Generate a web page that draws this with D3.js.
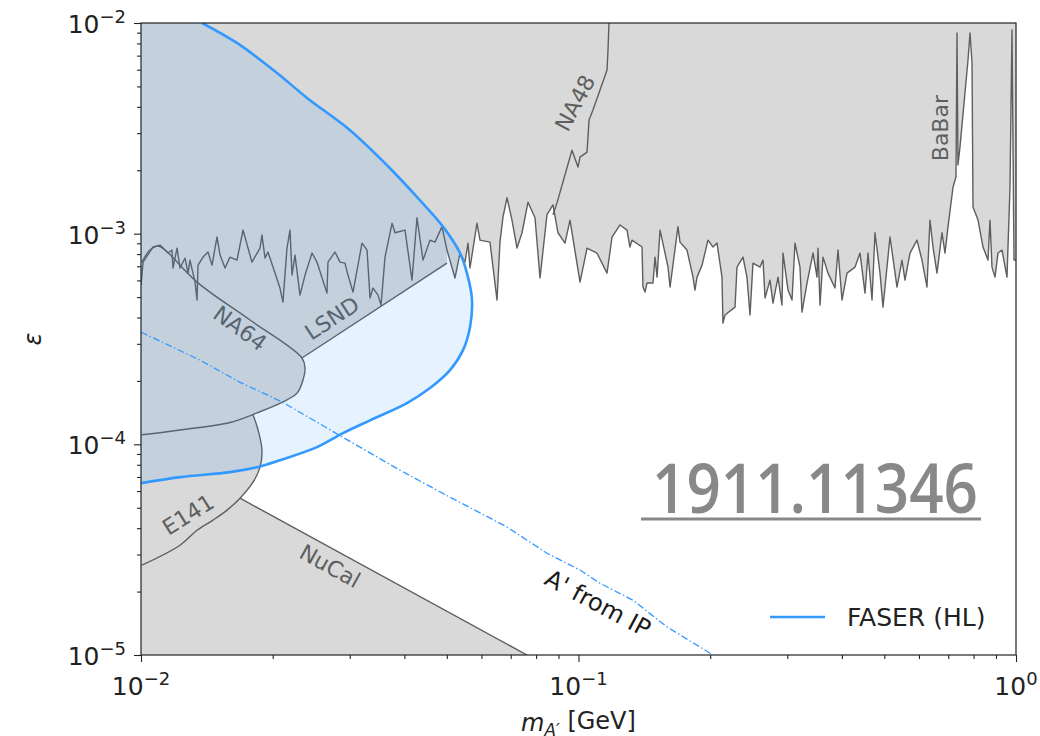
<!DOCTYPE html>
<html>
<head>
<meta charset="utf-8">
<title>Dark photon limits</title>
<script src="https://cdn.jsdelivr.net/npm/d3@7"></script>
<style>
    body { margin: 0; background: #fff; font-family: "DejaVu Sans", sans-serif; }
    .tick-label { font-size: 25px; fill: #222; }
    .exp-label { font-size: 22px; fill: #5e5e5e; }
</style>
</head>
<body>
<svg width="1040" height="736" id="mainsvg"></svg>
<script>
// upper noisy bound (BaBar / KLOE / ... envelope)
const babarM = [0.01,0.01011,0.01065,0.01105,0.01135,0.01153,0.01177,0.01183,0.01209,0.01228,
    0.01261,0.01281,0.01294,0.01329,0.01343,0.0135,0.01386,0.01423,0.01453,0.01492,
    0.01516,0.01556,0.01597,0.01657,0.01711,0.01793,0.01871,0.0189,0.01921,0.01951,
    0.02078,0.02111,0.02156,0.02191,0.02214,0.02249,0.02309,0.02371,0.0246,0.02525,
    0.02661,0.02675,0.02776,0.0285,0.02926,0.02972,0.03052,0.032,0.03286,0.03338,
    0.03391,0.03481,0.03537,0.03612,0.03748,0.03808,0.04013,0.04163,0.04274,0.04412,
    0.04577,0.04699,0.04875,0.05005,0.0522,0.0536,0.05503,0.0559,0.05649,0.05861,
    0.05955,0.06276,0.06512,0.06615,0.06721,0.06864,0.07047,0.07235,0.07428,0.07667,
    0.07954,0.08166,0.08472,0.08744,0.08977,0.09314,0.09562,0.1008,0.1046,0.1102,
    0.1162,0.1193,0.1244,0.1291,0.1311,0.1325,0.1397,0.1404,0.1419,0.1434,
    0.148,0.1496,0.1512,0.1536,0.1602,0.1619,0.1688,0.1706,0.177,0.1827,
    0.1846,0.1866,0.1916,0.1977,0.203,0.2073,0.2128,0.2139,0.2162,0.2279,
    0.2303,0.2377,0.2427,0.2466,0.2505,0.2599,0.2641,0.2669,0.274,0.2783,
    0.2858,0.2918,0.2934,0.3012,0.3076,0.3125,0.3208,0.3242,0.3329,0.3436,
    0.3509,0.3527,0.3565,0.3621,0.3718,0.3857,0.3919,0.4002,0.4109,0.4286,
    0.44,0.4517,0.4589,0.4687,0.4761,0.4888,0.4966,0.5152,0.5346,0.5488,
    0.5575,0.5724,0.5938,0.6097,0.6259,0.6359,0.6461,0.6598,0.6774,0.6882,
    0.6992,0.7178,0.7292,0.7331,0.7369,0.7447,0.7768,0.785,0.7933,0.7975,
    0.8188,0.8406,0.863,0.8721,0.8813,0.8954,0.9096,0.929,0.9537,0.9689,
    0.9792,0.9895,1.0];
const babarEps = [5.70e-4,7.33e-4,8.64e-4,8.83e-4,8.36e-4,8.09e-4,8.36e-4,6.87e-4,8.54e-4,6.87e-4,
    7.66e-4,6.50e-4,7.49e-4,5.89e-4,4.84e-4,7.09e-4,7.74e-4,8.18e-4,7.09e-4,9.64e-4,
    7.91e-4,6.87e-4,7.74e-4,7.49e-4,1.04e-3,7.33e-4,8.54e-4,9.85e-4,7.66e-4,8.18e-4,
    5.52e-4,4.73e-4,8.54e-4,1.04e-3,6.36e-4,7.91e-4,5.11e-4,6.36e-4,8.09e-4,7.33e-4,
    5.22e-4,7.33e-4,8.18e-4,7.33e-4,7.25e-4,6.36e-4,5.28e-4,9.02e-4,8.36e-4,4.95e-4,
    5.52e-4,5.11e-4,4.58e-4,7.74e-4,1.12e-3,1.01e-3,1.04e-3,6.02e-4,1.19e-3,7.49e-4,
    9.32e-4,9.12e-4,1.08e-3,8.36e-4,6.16e-4,8.09e-4,7.33e-4,9.02e-4,6.87e-4,1.12e-3,
    9.32e-4,9.12e-4,4.84e-4,9.12e-4,1.20e-3,1.48e-3,1.16e-3,8.54e-4,1.01e-3,1.41e-3,
    1.19e-3,6.16e-4,1.23e-3,1.37e-3,1.01e-3,9.02e-4,1.16e-3,5.89e-4,8.54e-4,8.09e-4,
    6.50e-4,9.64e-4,1.10e-3,1.04e-3,8.64e-4,9.32e-4,8.64e-4,5.58e-4,5.28e-4,5.83e-4,
    5.83e-4,7.74e-4,6.22e-4,1.04e-3,6.94e-4,5.58e-4,1.08e-3,9.12e-4,8.36e-4,6.22e-4,
    5.40e-4,6.22e-4,7.09e-4,9.32e-4,8.64e-4,9.02e-4,6.22e-4,3.76e-4,4.11e-4,4.48e-4,
    6.94e-4,7.74e-4,6.22e-4,4.11e-4,7.25e-4,6.94e-4,7.49e-4,4.95e-4,6.02e-4,4.68e-4,
    6.22e-4,4.58e-4,8.09e-4,5.40e-4,4.84e-4,9.02e-4,6.94e-4,4.24e-4,5.83e-4,8.09e-4,
    6.22e-4,8.54e-4,4.58e-4,7.74e-4,6.50e-4,5.52e-4,8.36e-4,4.84e-4,6.50e-4,6.94e-4,
    8.09e-4,5.22e-4,8.09e-4,4.84e-4,1.01e-3,6.50e-4,4.48e-4,9.64e-4,5.58e-4,7.49e-4,
    6.02e-4,8.09e-4,9.32e-4,7.49e-4,5.58e-4,1.16e-3,8.64e-4,6.50e-4,1.01e-3,8.09e-4,
    1.08e-3,1.66e-3,1.86e-3,8.97e-3,2.12e-3,2.58e-3,6.67e-3,8.97e-3,6.46e-3,1.34e-3,
    1.16e-3,8.64e-4,7.49e-4,1.16e-3,6.94e-4,6.22e-4,8.09e-4,8.36e-4,6.22e-4,1.66e-3,
    9.27e-3,7.49e-4,7.49e-4];

const na48M = [0.08744,0.0893,0.09663,0.09974,0.1008,0.1046,0.1057,0.1079,0.112,0.1162,0.1168,0.1174];
const na48Eps = [1.23e-3,1.40e-3,2.49e-3,2.07e-3,2.31e-3,2.44e-3,3.46e-3,3.86e-3,4.81e-3,5.98e-3,7.44e-3,1e-2];

const na64M = [0.01005,0.01048,0.01094,0.01135,0.01343,0.01775,0.02333,0.02371,0.02346,0.02273,0.02111,0.01842,0.01597,0.01228,0.01005];
const na64Eps = [7.33e-4,8.36e-4,8.73e-4,8.36e-4,5.89e-4,3.89e-4,2.57e-4,2.30e-4,2.02e-4,1.75e-4,1.59e-4,1.41e-4,1.27e-4,1.17e-4,1.11e-4];

const lsndM = [0.02333, 0.05005];
const lsndEps = [2.57e-4, 7.25e-4];

const e141M = [0.01803,0.01852,0.0189,0.01871,0.01803,0.01684,0.01573,0.01461,0.01343,0.01228,0.01005];
const e141Eps = [1.38e-4,1.17e-4,9.39e-5,7.79e-5,6.61e-5,5.55e-5,4.87e-5,4.37e-5,3.91e-5,3.32e-5,2.67e-5];

const nucalM = [0.01684, 0.07626];
const nucalEps = [5.55e-5, 1e-5];

const faserM = [0.01379,0.01657,0.02046,0.02396,0.03004,0.03612,0.04343,0.04901,0.0536,0.0559,0.05709,0.05649,
    0.05445,0.05085,0.04577,0.04055,0.03338,0.02895,0.02525,0.02078,0.01842,0.01597,0.01228,0.01];
const faserEps = [1e-2,8.04e-3,5.79e-3,4.41e-3,3.10e-3,2.16e-3,1.44e-3,1.08e-3,8.09e-4,6.22e-4,4.84e-4,3.60e-4,
    2.80e-4,2.25e-4,1.85e-4,1.57e-4,1.30e-4,1.13e-4,9.70e-5,8.41e-5,7.79e-5,7.38e-5,6.99e-5,6.54e-5];

const ipM = [0.01,0.01364,0.01684,0.021,0.02895,0.03908,0.05085,0.06864,0.08472,0.1008,0.112,0.1332,0.1593,0.203];
const ipEps = [3.41e-4,2.51e-4,1.97e-4,1.59e-4,1.08e-4,7.54e-5,5.61e-5,4.05e-5,3.04e-5,2.53e-5,2.19e-5,1.82e-5,1.36e-5,1e-5];

const expLabels = [
    { text: 'NA64', m: 0.01684, eps: 3.56e-4, angle: 36 },
    { text: 'LSND', m: 0.02733, eps: 3.97e-4, angle: -33 },
    { text: 'E141', m: 0.01281, eps: 4.64e-5, angle: -32 },
    { text: 'NuCal', m: 0.02704, eps: 2.64e-5, angle: 29 },
    { text: 'NA48', m: 0.09818, eps: 4.17e-3, angle: -62 },
    { text: 'BaBar', m: 0.6704, eps: 3.17e-3, angle: -90 }
];
const ipLabel = { text: "A' from IP", m: 0.1108, eps: 1.76e-5, angle: 28 };

const xTickExps = [-2, -1, 0];
const yTickExps = [-5, -4, -3, -2];

const svg = d3.select('#mainsvg');
const margin = { top: 23, right: 24, bottom: 81, left: 141 };
const innerWidth = 1040 - margin.left - margin.right;
const innerHeight = 736 - margin.top - margin.bottom;

const g = svg.append('g').attr('transform', `translate(${margin.left}, ${margin.top})`);

const x = d3.scaleLog().domain([0.01, 1]).range([0, innerWidth]);
const y = d3.scaleLog().domain([1e-5, 1e-2]).range([innerHeight, 0]);

const zip = (ms, es) => ms.map((m, i) => [m, es[i]]);
const line = d3.line().x(d => x(d[0])).y(d => y(d[1]));
const smooth = d3.line().x(d => x(d[0])).y(d => y(d[1])).curve(d3.curveCatmullRom.alpha(0.5));

svg.append('defs').append('clipPath').attr('id', 'plotclip')
    .append('rect').attr('width', innerWidth).attr('height', innerHeight);

const plot = g.append('g').attr('clip-path', 'url(#plotclip)');

const grayFill = '#d9d9d9';
const grayLine = '#5e5e5e';
const faserBlue = '#3399ff';

const babar = zip(babarM, babarEps);
const na64 = zip(na64M, na64Eps);
const e141 = zip(e141M, e141Eps);
const nucal = zip(nucalM, nucalEps);
const lsnd = zip(lsndM, lsndEps);

// upper excluded region
plot.append('path')
    .attr('d', line(babar.concat([[1, 1e-2], [0.01, 1e-2]])) + 'Z')
    .attr('fill', grayFill);

// lower-left excluded region (beam dumps, NA64, LSND)
const lowerPoly = [[0.01, 1e-2], [0.01, 1e-5], nucal[1], nucal[0]]
    .concat(e141.slice(0, 5).reverse())
    .concat(na64.slice(6, 12).reverse())
    .concat([lsnd[1], [lsnd[1][0], 1e-2]]);
plot.append('path').attr('d', line(lowerPoly) + 'Z').attr('fill', grayFill);

// outlines
const outline = (pts, gen) => plot.append('path')
    .attr('d', (gen || line)(pts))
    .attr('fill', 'none')
    .attr('stroke', grayLine)
    .attr('stroke-width', 1.4)
    .attr('stroke-linejoin', 'round');

outline(babar);
outline(zip(na48M, na48Eps));
outline(na64, smooth);
outline(lsnd);
outline(e141, smooth);
outline(nucal);

// experiment labels
expLabels.forEach(d => {
    plot.append('text')
        .attr('class', 'exp-label')
        .attr('transform', `translate(${x(d.m)}, ${y(d.eps)}) rotate(${d.angle})`)
        .attr('text-anchor', 'middle')
        .attr('dy', '0.35em')
        .text(d.text);
});

// FASER (HL) sensitivity
const faser = zip(faserM, faserEps);
plot.append('path')
    .attr('d', smooth(faser) + `L${x(0.01)},${y(1e-2)}Z`)
    .attr('fill', faserBlue)
    .attr('fill-opacity', 0.12);
plot.append('path')
    .attr('d', smooth(faser))
    .attr('fill', 'none')
    .attr('stroke', faserBlue)
    .attr('stroke-width', 2.6);

// A' from IP
plot.append('path')
    .attr('d', line(zip(ipM, ipEps)))
    .attr('fill', 'none')
    .attr('stroke', faserBlue)
    .attr('stroke-width', 1.3)
    .attr('stroke-dasharray', '7,2.5,1.5,2.5');

plot.append('text')
    .attr('transform', `translate(${x(ipLabel.m)}, ${y(ipLabel.eps)}) rotate(${ipLabel.angle})`)
    .attr('text-anchor', 'middle')
    .attr('dy', '0.35em')
    .attr('font-size', 24)
    .attr('fill', '#1a1a1a')
    .text(ipLabel.text);

// axes
const minors = (exps) => {
    const out = [];
    exps.slice(0, -1).forEach(e => { for (let k = 2; k <= 9; k++) out.push(k * Math.pow(10, e)); });
    return out;
};
const xMajor = xTickExps.map(e => Math.pow(10, e));
const yMajor = yTickExps.map(e => Math.pow(10, e));

const styleAxis = sel => {
    sel.select('.domain').remove();
    sel.selectAll('line').attr('stroke', '#222').attr('stroke-width', 1.1);
};

g.append('g').attr('transform', `translate(0, ${innerHeight})`)
    .call(d3.axisBottom(x).tickValues(xMajor).tickSize(7).tickFormat('')).call(styleAxis);
g.append('g').attr('transform', `translate(0, ${innerHeight})`)
    .call(d3.axisBottom(x).tickValues(minors(xTickExps)).tickSize(4).tickFormat('')).call(styleAxis);
g.append('g')
    .call(d3.axisLeft(y).tickValues(yMajor).tickSize(7).tickFormat('')).call(styleAxis);
g.append('g')
    .call(d3.axisLeft(y).tickValues(minors(yTickExps)).tickSize(4).tickFormat('')).call(styleAxis);

const powText = (sel, e) => {
    sel.append('tspan').text('10');
    sel.append('tspan').attr('dy', '-0.55em').attr('font-size', '0.72em')
        .text(e < 0 ? '\u2212' + (-e) : String(e));
};

xTickExps.forEach(e => {
    g.append('text').attr('class', 'tick-label')
        .attr('x', x(Math.pow(10, e)))
        .attr('y', innerHeight + 40)
        .attr('text-anchor', 'middle')
        .call(powText, e);
});
yTickExps.forEach(e => {
    g.append('text').attr('class', 'tick-label')
        .attr('x', -15)
        .attr('y', y(Math.pow(10, e)) + 10)
        .attr('text-anchor', 'end')
        .call(powText, e);
});

// frame
g.append('rect')
    .attr('width', innerWidth).attr('height', innerHeight)
    .attr('fill', 'none').attr('stroke', '#222').attr('stroke-width', 1.2);

// axis labels
const xl = g.append('text')
    .attr('x', innerWidth / 2)
    .attr('y', innerHeight + 76)
    .attr('text-anchor', 'middle')
    .attr('font-size', 24)
    .attr('fill', '#222');
xl.append('tspan').attr('font-style', 'italic').text('m');
xl.append('tspan').attr('font-style', 'italic').attr('font-size', '0.7em').attr('dy', '0.3em').text('A\u2032');
xl.append('tspan').attr('dy', '-0.3em').text(' [GeV]');

g.append('text')
    .attr('transform', `translate(${-margin.left + 41}, ${innerHeight / 2}) rotate(-90)`)
    .attr('text-anchor', 'middle')
    .attr('font-size', 24)
    .attr('font-style', 'italic')
    .attr('fill', '#222')
    .text('\u03b5');

// legend
const legend = g.append('g').attr('transform', `translate(${770 - margin.left}, ${617 - margin.top})`);
legend.append('line').attr('x1', 0).attr('x2', 55).attr('stroke', faserBlue).attr('stroke-width', 2.6);
legend.append('text').attr('x', 77).attr('dy', '0.36em').attr('font-size', 25).attr('fill', '#222')
    .text('FASER (HL)');

// arXiv tag
svg.append('text')
    .attr('x', 652).attr('y', 513)
    .attr('textLength', 326).attr('lengthAdjust', 'spacingAndGlyphs')
    .attr('font-family', '"Open Sans", sans-serif')
    .attr('font-weight', 600)
    .attr('font-size', 68)
    .attr('fill', '#888888')
    .text('1911.11346');
svg.append('line')
    .attr('x1', 641).attr('x2', 981).attr('y1', 519).attr('y2', 519)
    .attr('stroke', '#888888').attr('stroke-width', 3);
</script>
</body>
</html>
